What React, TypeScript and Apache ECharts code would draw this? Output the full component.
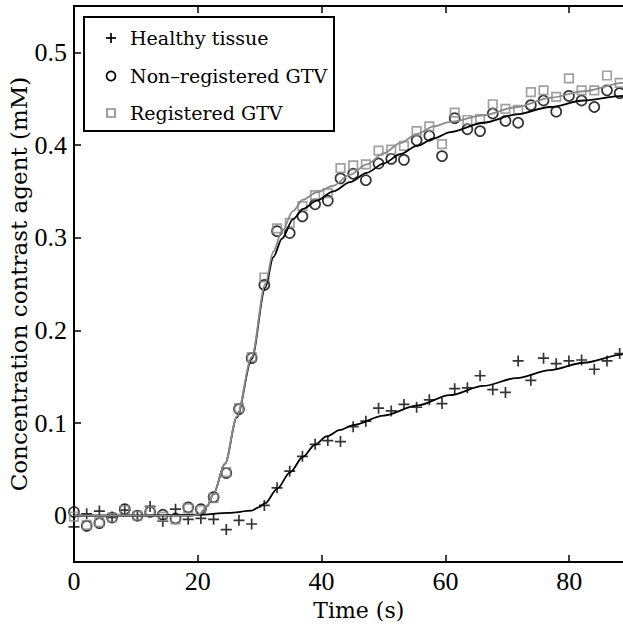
import React, { useEffect, useRef } from "react";
import * as echarts from "echarts";

// Sample times (s)
const times = [
  0, 2.05, 4.1, 6.15, 8.2, 10.25, 12.3, 14.35, 16.4, 18.45, 20.5, 22.55, 24.6, 26.65, 28.7,
  30.75, 32.8, 34.85, 36.9, 38.95, 41.0, 43.05, 45.1, 47.15, 49.2, 51.25, 53.3, 55.35, 57.4,
  59.45, 61.5, 63.55, 65.6, 67.65, 69.7, 71.75, 73.8, 75.85, 77.9, 79.95, 82.0, 84.05, 86.1, 88.15,
];

const healthy = [
  -0.012, 0.002, 0.005, -0.002, 0.006, 0.0, 0.01, -0.006, 0.007, -0.004, -0.003, -0.004, -0.015,
  -0.005, -0.009, 0.011, 0.03, 0.048, 0.064, 0.077, 0.081, 0.08, 0.096, 0.102, 0.116, 0.113,
  0.12, 0.117, 0.125, 0.121, 0.137, 0.138, 0.151, 0.136, 0.133, 0.167, 0.146, 0.17, 0.164, 0.167,
  0.168, 0.158, 0.167, 0.175,
];

const nonRegistered = [
  0.004, -0.011, -0.008, -0.002, 0.007, 0.0, 0.004, 0.001, -0.003, 0.009, 0.007, 0.02, 0.046,
  0.115, 0.17, 0.249, 0.307, 0.305, 0.323, 0.336, 0.34, 0.364, 0.369, 0.362, 0.38, 0.385, 0.384,
  0.405, 0.41, 0.388, 0.429, 0.417, 0.415, 0.434, 0.426, 0.424, 0.443, 0.448, 0.436, 0.453,
  0.448, 0.441, 0.459, 0.456,
];

const registered = [
  -0.001, -0.01, -0.007, -0.002, 0.006, 0.0, 0.005, -0.001, -0.004, 0.008, 0.006, 0.019, 0.047,
  0.116, 0.171, 0.257, 0.31, 0.316, 0.334, 0.346, 0.348, 0.375, 0.378, 0.379, 0.394, 0.395,
  0.399, 0.415, 0.42, 0.401, 0.435, 0.427, 0.428, 0.444, 0.439, 0.438, 0.457, 0.459, 0.452,
  0.472, 0.459, 0.459, 0.475, 0.467,
];

// Fitted curves: [time, value]
const healthyFit = [
  [0, 0], [10, 0], [20, 0.001], [25, 0.003], [28.7, 0.0054], [29.8, 0.009], [30.9, 0.0135],
  [32.8, 0.029], [34.9, 0.0467], [37.0, 0.0636], [38.9, 0.0765], [40.8, 0.0855], [43.0, 0.0925],
  [45.1, 0.0978], [50.0, 0.108], [55.4, 0.1187], [60.7, 0.13], [66.1, 0.14], [71.5, 0.1485],
  [76.9, 0.157], [82.3, 0.165], [88.7, 0.174], [92, 0.179],
];

const nonRegisteredFit = [
  [0, 0], [10, 0], [19, 0], [20.4, 0.002], [21.5, 0.01], [22.5, 0.023], [24.4, 0.056],
  [26.3, 0.106], [28.7, 0.169], [30.9, 0.246], [32.2, 0.279], [33.6, 0.299], [35.4, 0.32],
  [37.0, 0.331], [39.2, 0.34], [41.9, 0.35], [44.6, 0.36], [47.3, 0.37], [50.0, 0.38],
  [52.7, 0.39], [55.4, 0.399], [58.1, 0.407], [60.8, 0.414], [66.1, 0.424], [71.5, 0.433],
  [76.9, 0.441], [82.3, 0.448], [88.7, 0.453], [92, 0.455],
];

const registeredFit = [
  [0, 0], [10, 0], [19, 0], [20.4, 0.002], [21.5, 0.01], [22.5, 0.023], [24.4, 0.056],
  [26.3, 0.107], [28.7, 0.171], [30.9, 0.25], [32.2, 0.285], [33.6, 0.307], [35.4, 0.329],
  [37.0, 0.341], [39.2, 0.349], [41.9, 0.356], [44.6, 0.368], [47.3, 0.379], [50.0, 0.391],
  [52.7, 0.402], [55.4, 0.412], [58.1, 0.42], [60.8, 0.425], [66.1, 0.432], [71.5, 0.441],
  [76.9, 0.451], [82.3, 0.458], [88.7, 0.467], [92, 0.47],
];

const legendLabels = ["Healthy tissue", "Non\u2013registered GTV", "Registered GTV"];

const GRAY = "#8a8a8a";
const TEXT_FONT = "DejaVu Serif";
const NUM_FONT = "Liberation Serif";

function pairs(xs: number[], ys: number[]) {
  return xs.map((x, i) => [x, ys[i]]);
}

export default function App() {
  const ref = useRef<HTMLDivElement>(null);

  useEffect(() => {
    if (!ref.current) return;
    const chart = echarts.init(ref.current, null, { renderer: "svg" });

    const plusSymbol = "path://M5,0L5,10M0,5L10,5";

    const xCommon = {
      type: "value" as const,
      min: 0,
      max: 92,
      interval: 20,
      splitLine: { show: false },
      axisLine: { show: true, onZero: false, lineStyle: { color: "#000", width: 2 } },
      axisTick: { show: true, inside: true, length: 7, lineStyle: { color: "#000", width: 1.5 } },
    };

    chart.setOption({
      animation: false,
      backgroundColor: "#fff",
      grid: {
        left: 74,
        top: 6,
        width: 569.5,
        height: 556,
        containLabel: false,
        outerBoundsMode: "none",
      },
      xAxis: [
        {
          ...xCommon,
          position: "bottom",
          name: "Time (s)",
          nameLocation: "middle",
          nameGap: 37,
          nameMoveOverlap: false,
          nameTextStyle: { fontFamily: TEXT_FONT, fontSize: 22, color: "#000" },
          axisLabel: {
            margin: 6,
            fontFamily: NUM_FONT,
            fontSize: 26,
            lineHeight: 26,
            color: "#000",
            showMaxLabel: false,
          },
        },
        {
          ...xCommon,
          position: "top",
          axisLabel: { show: false },
        },
      ],
      yAxis: {
        type: "value",
        min: -0.05,
        max: 0.55,
        splitNumber: 6,
        splitLine: { show: false },
        axisLine: { show: true, onZero: false, lineStyle: { color: "#000", width: 2 } },
        axisTick: { show: true, inside: true, length: 7, lineStyle: { color: "#000", width: 1.5 } },
        name: "Concentration contrast agent (mM)",
        nameLocation: "middle",
        nameGap: 44,
        nameMoveOverlap: false,
        nameTextStyle: { fontFamily: TEXT_FONT, fontSize: 23, color: "#000" },
        axisLabel: {
          margin: 7,
          fontFamily: NUM_FONT,
          fontSize: 26,
          color: "#000",
          showMinLabel: false,
          showMaxLabel: false,
          formatter: (v: number) => (Math.abs(v) < 1e-9 ? "0" : v.toFixed(1)),
        },
      },
      series: [
        {
          name: legendLabels[0],
          type: "scatter",
          data: pairs(times, healthy),
          symbol: plusSymbol,
          symbolSize: 11,
          itemStyle: { color: "rgba(0,0,0,0)", borderColor: "#000", borderWidth: 1.7 },
          z: 3,
        },
        {
          type: "line",
          data: healthyFit,
          showSymbol: false,
          smooth: 0.3,
          smoothMonotone: "x",
          lineStyle: { color: "#000", width: 1.8 },
          z: 4,
        },
        {
          name: legendLabels[1],
          type: "scatter",
          data: pairs(times, nonRegistered),
          symbol: "circle",
          symbolSize: 10,
          itemStyle: { color: "rgba(0,0,0,0)", borderColor: "#000", borderWidth: 1.7 },
          z: 3,
        },
        {
          type: "line",
          data: nonRegisteredFit,
          showSymbol: false,
          smooth: 0.3,
          smoothMonotone: "x",
          lineStyle: { color: "#000", width: 1.8 },
          z: 4,
        },
        {
          name: legendLabels[2],
          type: "scatter",
          data: pairs(times, registered),
          symbol: "rect",
          symbolSize: 8.5,
          itemStyle: { color: "rgba(0,0,0,0)", borderColor: GRAY, borderWidth: 1.7 },
          z: 3,
        },
        {
          type: "line",
          data: registeredFit,
          showSymbol: false,
          smooth: 0.3,
          smoothMonotone: "x",
          lineStyle: { color: GRAY, width: 1.8 },
          z: 4,
        },
      ],
      graphic: [
        {
          type: "group",
          left: 83,
          top: 16,
          z: 100,
          children: [
            {
              type: "rect",
              shape: { x: 0, y: 0, width: 250, height: 114 },
              style: { fill: "#fff", stroke: "#000", lineWidth: 2 },
            },
            {
              type: "line",
              shape: { x1: 22, y1: 21, x2: 32, y2: 21 },
              style: { stroke: "#000", lineWidth: 1.7 },
            },
            {
              type: "line",
              shape: { x1: 27, y1: 16, x2: 27, y2: 26 },
              style: { stroke: "#000", lineWidth: 1.7 },
            },
            {
              type: "circle",
              shape: { cx: 27, cy: 59, r: 4.5 },
              style: { fill: "none", stroke: "#000", lineWidth: 1.7 },
            },
            {
              type: "rect",
              shape: { x: 23, y: 92, width: 8, height: 8 },
              style: { fill: "none", stroke: GRAY, lineWidth: 1.7 },
            },
            {
              type: "text",
              x: 46,
              y: 21,
              style: { text: legendLabels[0], font: `19px "${TEXT_FONT}"`, fill: "#000", verticalAlign: "middle" },
            },
            {
              type: "text",
              x: 46,
              y: 59,
              style: { text: legendLabels[1], font: `19px "${TEXT_FONT}"`, fill: "#000", verticalAlign: "middle" },
            },
            {
              type: "text",
              x: 46,
              y: 96,
              style: { text: legendLabels[2], font: `19px "${TEXT_FONT}"`, fill: "#000", verticalAlign: "middle" },
            },
          ],
        },
      ],
    });

    return () => chart.dispose();
  }, []);

  return <div ref={ref} style={{ width: 623, height: 628, position: "absolute", left: 0, top: 0 }} />;
}
